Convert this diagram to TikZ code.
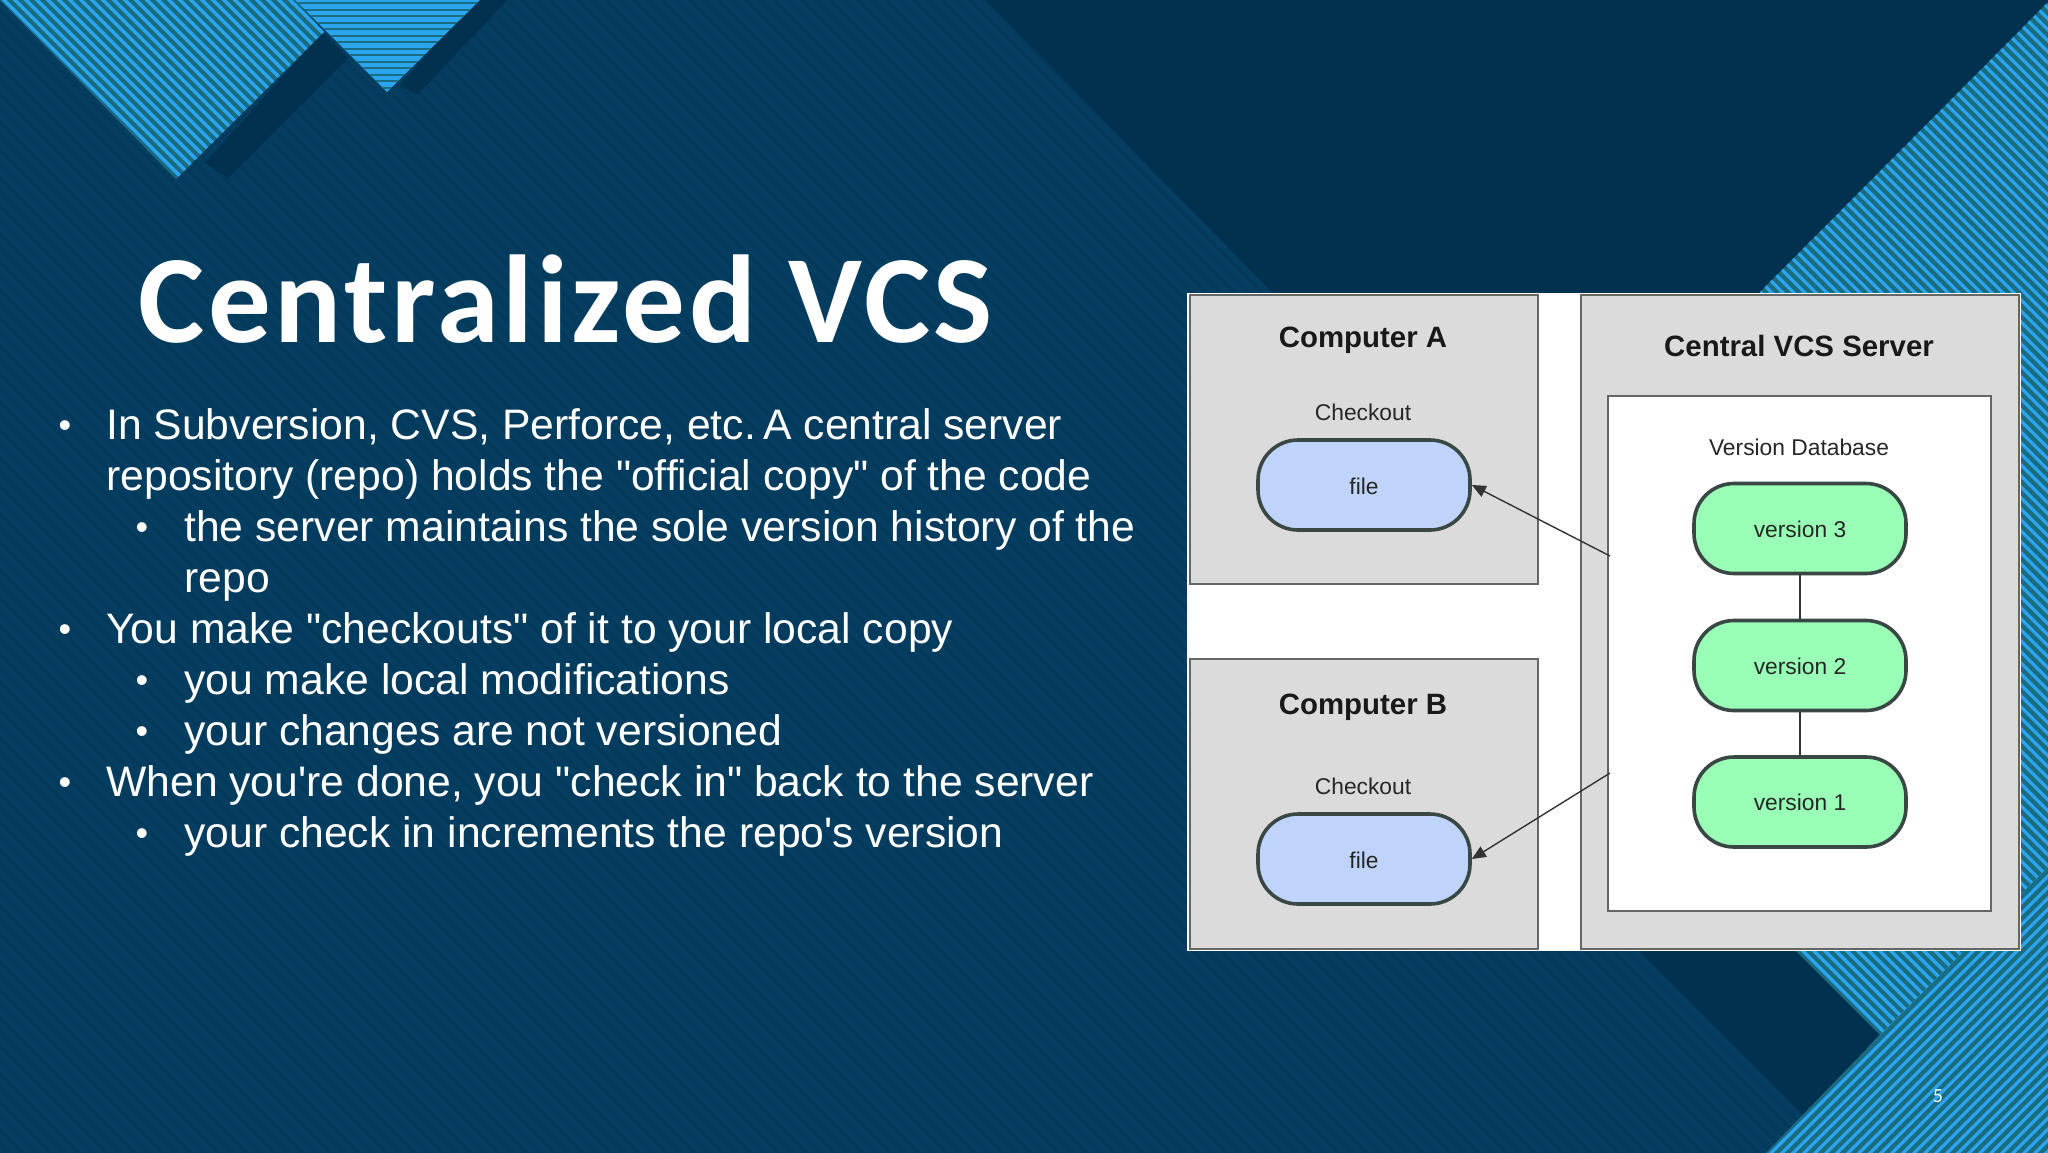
\documentclass[tikz,border=0pt]{standalone}
\usepackage{fontspec}
\usepackage{tikz}
\usetikzlibrary{arrows.meta}
\newfontfamily\bodyfont{Liberation Sans}
\newfontfamily\titlefont{Carlito}[LetterSpace=3]
\newfontfamily\numfont{Carlito}
\definecolor{bgblue}{HTML}{053E60}
\definecolor{bgline}{HTML}{043A5B}
\definecolor{darkblue}{HTML}{02304F}
\definecolor{hatchteal}{HTML}{1A6C80}
\definecolor{hatchblue}{HTML}{2BA6EE}
\definecolor{boxgrey}{HTML}{DCDBDC}
\definecolor{boxline}{HTML}{666666}
\definecolor{filefill}{HTML}{BFD4FB}
\definecolor{versionfill}{HTML}{99FFB6}
\definecolor{pillline}{HTML}{3A4845}
\tikzset{
  panel/.style={draw=boxline,fill=boxgrey,line width=1pt,inner sep=0pt},
  pill/.style={draw=pillline,line width=1.8pt,rounded corners=20pt,minimum width=106pt,minimum height=45pt,inner sep=0pt,font=\bodyfont\fontsize{11.4}{13}\selectfont,text=black!85},
  heading/.style={font=\bodyfont\bfseries\fontsize{14.7}{17}\selectfont,text=black!90},
  caption/.style={font=\bodyfont\fontsize{11.4}{13}\selectfont,text=black!85},
  bodyline/.style={anchor=base west,inner sep=0pt,text=white,font=\bodyfont\fontsize{21.33}{25}\selectfont},
  bodydot/.style={anchor=base,inner sep=0pt,text=white,font=\bodyfont\fontsize{18}{21}\selectfont},
  link/.style={draw=black!80,line width=0.7pt},
  tipped/.style={-{Triangle[length=7pt,width=6pt]}},
}
\begin{document}
\begin{tikzpicture}[x=0.5pt,y=-0.5pt]
        \useasboundingbox (0,0) rectangle (2048,1152);
        \fill [bgblue] (-6,-6) rectangle (2054,1158);
        \foreach \s in {-1150,-1136,...,2048}
          \draw[bgline,line width=2pt] (\s,-6) -- (\s+1164,1158);
        \fill [darkblue] (980,-6) -- (2054,-6) -- (2054,1158) -- (1846,1158) -- (1640,952) -- (1273,293) -- cycle;
        \fill [darkblue] (323,32) -- (205,163) -- (228,178) -- (348,58) -- cycle;
        \fill [darkblue] (480,-6) -- (400,85) -- (417,95) -- (513,-6) -- cycle;
        \begin{scope}
          \clip (-6,-6) -- (295,-6) -- (295,0) -- (324,32) -- (176,179) -- cycle;
          \fill [hatchteal] (-6,-6) rectangle (400,200);
          \foreach \s in {-200,-189,...,400}
            \draw[hatchblue,line width=1.6pt] (\s,-6) -- (\s+206,200);
        \end{scope}
        \begin{scope}
          \clip (295,-6) -- (486,-6) -- (387,92) -- (295,0) -- cycle;
          \fill [hatchblue] (280,-6) rectangle (500,100);
          \foreach \s in {3,9.5,...,100}
            \draw[hatchteal,line width=1pt] (280,\s) -- (500,\s);
        \end{scope}
        \begin{scope}
          \clip (2054,-4) -- (1760,292) -- (1760,940) -- (1785,940) -- (1880,1035) -- (2054,861) -- cycle;
          \fill [hatchteal] (1700,-6) rectangle (2054,1100);
          \foreach \s in {500,511,...,2054}
            \draw[hatchblue,line width=1.6pt] (\s,0) -- (\s+1152,1152);
        \end{scope}
        \begin{scope}
          \clip (1761,1158) -- (1880,1035) -- (2054,861) -- (2054,1158) -- cycle;
          \fill [hatchteal] (1700,800) rectangle (2054,1158);
          \foreach \s in {2600,2611,...,3300}
            \draw[hatchblue,line width=1.6pt] (\s,-6) -- (\s-1164,1158);
        \end{scope}
        \node[inner sep=0pt,anchor=base west,text=white,font=\titlefont\bfseries\fontsize{62.5}{72}\selectfont] (title) at (138,342) {Centralized VCS};
        \foreach \i/\xdot/\xtext/\ybase/\words in {
          1/65/106/439/{In Subversion, CVS, Perforce, etc.\kern-4.2pt{} A central server},
          3/142/184/541/{the server maintains the sole version history of the},
          5/65/106/643/{You make "checkouts" of it to your local copy},
          6/142/184/694/{you make local modifications},
          7/142/184/745/{your changes are not versioned},
          8/65/106/796/{When you're done, you "check in" back to the server},
          9/142/184/847/{your check in increments the repo's version}}
        {
          \node[bodydot] (dot\i) at (\xdot,\ybase-2) {•};
          \node[bodyline] (line\i) at (\xtext,\ybase) {\words};
        }
        \node[bodyline] (cont2) at (106,490) {repository (repo) holds the "official copy" of the code};
        \node[bodyline] (cont4) at (184,592) {repo};
        \node[inner sep=0pt,fill=white,minimum width=417pt,minimum height=329pt] (photo) at (1604,622) {};
        \node[panel,minimum width=174pt,minimum height=144.7pt] (compA) at (1364,439.5) {};
        \node[panel,minimum width=174pt,minimum height=145pt] (compB) at (1364,804) {};
        \node[panel,minimum width=219pt,minimum height=327pt] (server) at (1799.5,622) {};
        \node[draw=boxline,fill=white,line width=1pt,inner sep=0pt,minimum width=191.5pt,minimum height=257.5pt] (dbase) at (1799.5,653.5) {};
        \node[heading] (nameA) at (1363,340) {Computer A};
        \node[heading] (nameB) at (1363,707) {Computer B};
        \node[heading] (nameS) at (1799,346) {Central VCS Server};
        \node[caption] (checkA) at (1363,412) {Checkout};
        \node[caption] (checkB) at (1363,786) {Checkout};
        \node[caption] (dbname) at (1799,447) {Version Database};
        \node[pill,fill=filefill,text height=10pt] (fileA) at (1364,485) {file};
        \node[pill,fill=filefill,text height=10pt] (fileB) at (1364,859) {file};
        \node[pill,fill=versionfill,text height=9.5pt] (verC) at (1800,528.5) {version 3};
        \node[pill,fill=versionfill,text height=9.5pt] (verB) at (1800,665.5) {version 2};
        \node[pill,fill=versionfill] (verA) at (1800,802) {version 1};
        \draw[link] (verC) -- (verB);
        \draw[link] (verB) -- (verA);
        \coordinate (outA) at (1610,556);
        \coordinate (outB) at (1610,773);
        \draw[link,tipped] (outA) -- (fileA.east);
        \draw[link,tipped] (outB) -- (fileB.east);
        \node[text=white,inner sep=0pt,font=\numfont\fontsize{10}{12}\selectfont] (pagenum) at (1938,1096) {5};
\end{tikzpicture}
\end{document}
